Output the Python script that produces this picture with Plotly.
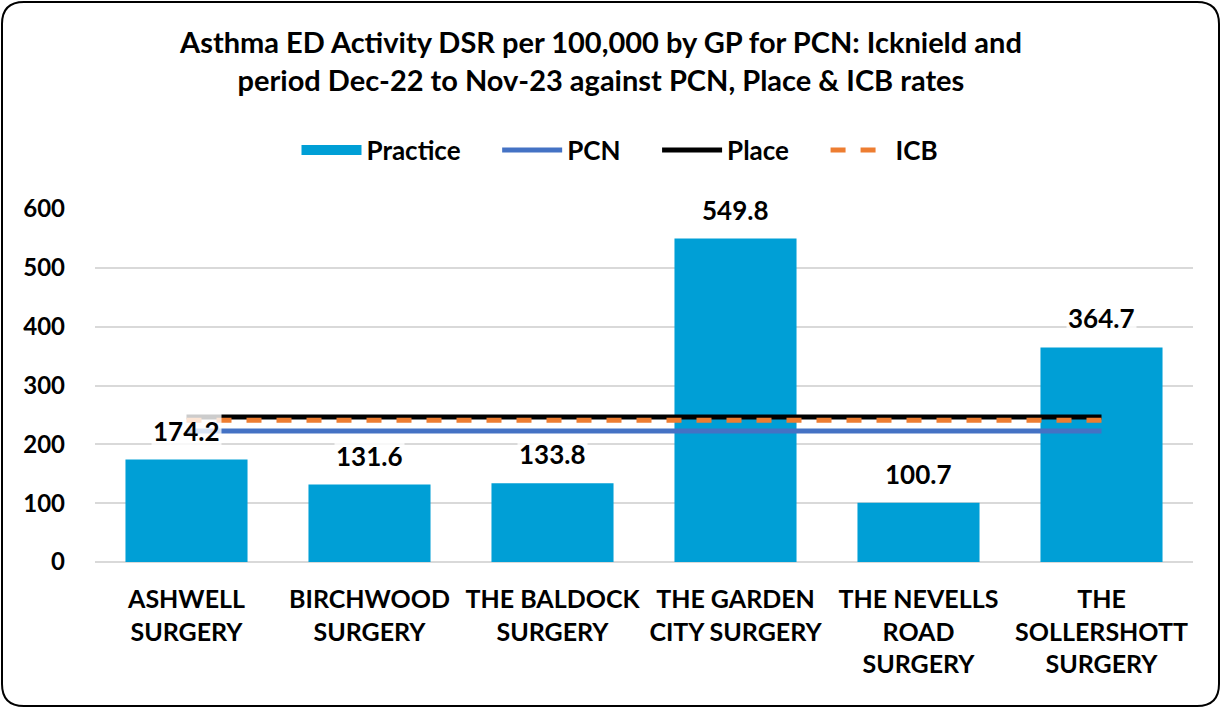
import plotly.graph_objects as go

categories = ["ASHWELL<br>SURGERY", "BIRCHWOOD<br>SURGERY", "THE BALDOCK<br>SURGERY",
              "THE GARDEN<br>CITY SURGERY", "THE NEVELLS<br>ROAD<br>SURGERY", "THE<br>SOLLERSHOTT<br>SURGERY"]
practice = [174.2, 131.6, 133.8, 549.8, 100.7, 364.7]
pcn_rate = 222.5
place_rate = 246.5
icb_rate = 241.0
title_text = "Asthma ED Activity DSR per 100,000 by GP for PCN: Icknield and<br>period Dec-22 to Nov-23 against PCN, Place & ICB rates"

FONT = "Lato"
BAR_COLOR = "#009FD6"
PAD = "\u00a0" * 5  # spacing after legend labels

W, H = 1222, 709
L, R, T, B = 95, 29, 209, 147
pw, ph = W - L - R, H - T - B
def px(x):
    return (x - L) / pw
def py(y):
    return (H - B - y) / ph

fig = go.Figure()
fig.add_trace(go.Bar(x=categories, y=practice, name="Practice", marker_color=BAR_COLOR,
                     marker_line_width=0, showlegend=False))
# legend-only entry for Practice with a wide swatch
fig.add_trace(go.Scatter(x=[None], y=[None], name="Practice" + PAD, mode="lines",
                         line=dict(color=BAR_COLOR, width=16)))
fig.add_trace(go.Scatter(x=categories, y=[pcn_rate] * len(categories), name="PCN" + PAD, mode="lines",
                         line=dict(color="#4472C4", width=5)))
fig.add_trace(go.Scatter(x=categories, y=[place_rate] * len(categories), name="Place" + PAD, mode="lines",
                         line=dict(color="#000000", width=5)))
fig.add_trace(go.Scatter(x=categories, y=[icb_rate] * len(categories), name="ICB", mode="lines",
                         line=dict(color="#ED7D31", width=5, dash="dash")))

for c, v in zip(categories, practice):
    fig.add_annotation(x=c, y=v, text=f"{v:.1f}", showarrow=False, yshift=29,
                       font=dict(family=FONT, size=26, color="#000000", weight="bold"),
                       bgcolor="rgba(255,255,255,0.8)", borderpad=1)

fig.add_annotation(text=title_text, xref="paper", yref="paper", x=px(600), y=py(22),
                   xanchor="center", yanchor="top", showarrow=False, align="center",
                   font=dict(family=FONT, size=29, color="#000000", weight="bold"))

fig.update_layout(
    width=W, height=H,
    paper_bgcolor="white", plot_bgcolor="white",
    margin=dict(l=L, r=R, t=T, b=B),
    legend=dict(orientation="h", x=px(620), xanchor="center", y=py(150),
                yanchor="middle",
                font=dict(family=FONT, size=26, color="#000000", weight="bold"),
                itemwidth=60, traceorder="normal"),
    bargap=0.333,
    showlegend=True,
)
fig.update_xaxes(tickfont=dict(family=FONT, size=25, color="#000000", weight="bold"),
                 showgrid=False, showline=False, ticks="", tickangle=0, ticklabelstandoff=20)
fig.update_yaxes(range=[0, 600], dtick=100, showgrid=True, gridcolor="#D9D9D9", gridwidth=1.5,
                 zeroline=True, zerolinecolor="#D9D9D9", zerolinewidth=1.5,
                 tickfont=dict(family=FONT, size=24, color="#000000", weight="bold"),
                 ticks="", ticklabelstandoff=29)

# rounded border around whole chart
x0, x1, y0, y1, rad = 2, 1219, 2, 706, 22
path = (f"M {px(x0+rad)} {py(y0)} L {px(x1-rad)} {py(y0)} "
        f"Q {px(x1)} {py(y0)} {px(x1)} {py(y0+rad)} L {px(x1)} {py(y1-rad)} "
        f"Q {px(x1)} {py(y1)} {px(x1-rad)} {py(y1)} L {px(x0+rad)} {py(y1)} "
        f"Q {px(x0)} {py(y1)} {px(x0)} {py(y1-rad)} L {px(x0)} {py(y0+rad)} "
        f"Q {px(x0)} {py(y0)} {px(x0+rad)} {py(y0)} Z")
fig.add_shape(type="path", xref="paper", yref="paper", path=path,
              line=dict(color="#000000", width=2), layer="above")

fig.write_html("out.html", config={"displayModeBar": False},
               post_script="document.body.style.margin='0';document.body.style.padding='0';")
